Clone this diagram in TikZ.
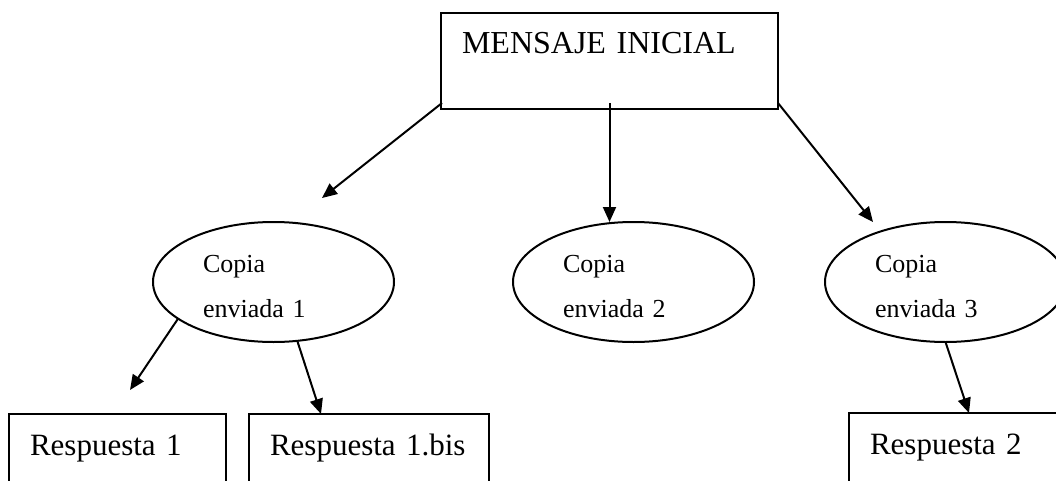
\documentclass[tikz,border=0pt]{standalone}
\usepackage{fontspec}
\setmainfont{Liberation Serif}
\usetikzlibrary{arrows.meta,shapes.geometric}
\begin{document}
\begin{tikzpicture}[x=1pt,y=-1pt,>={Triangle[length=15pt,width=13pt]},line width=2pt,
  box/.style={draw,rectangle,anchor=north west,outer sep=0pt,align=left,inner xsep=21pt,inner ysep=20pt,
    text height=21pt,font=\fontsize{31}{38}\selectfont},
  copia/.style={draw,ellipse,inner sep=0pt,outer sep=0pt,minimum width=241pt,minimum height=120pt,
    text width=141pt,align=left,text height=25pt,text depth=45pt,font=\fontsize{26}{45}\selectfont}]
  \useasboundingbox (0,0) rectangle (1056,481);
  \clip (0,0) rectangle (1056,481);
  \node[box,text width=295pt,text depth=35pt,font=\fontsize{32}{38}\selectfont] (msg) at (441,13) {MENSAJE INICIAL};
  \node[copia] (c1) at (273.5,282) {Copia\\enviada 1};
  \node[copia] (c2) at (633.5,282) {Copia\\enviada 2};
  \node[copia] (c3) at (945.5,282) {Copia\\enviada 3};
  \node[box,text width=175pt,text depth=80pt] (r1) at (9,414) {Respuesta 1};
  \node[box,text width=198pt,text depth=80pt] (r1b) at (249,414) {Respuesta 1.bis};
  \node[box,text width=190pt,text depth=80pt] (r2) at (849,413) {Respuesta 2};
  \draw[->] ([shift={(1,-6)}]msg.south west) -- ([shift={(48.5,-24)}]c1.north);
  \draw[->] ([shift={(0,-6)}]msg.south) -- (msg.south |- c2.north);
  \draw[->] ([shift={(0,-6)}]msg.south east) -- ([shift={(-72.5,0)}]c3.north);
  \draw[->] (c1.201) -- ([shift={(121,-24)}]r1.north west);
  \draw[->] (c1.292) -- ([shift={(72,0)}]r1b.north west);
  \draw[->] (c3.south) -- ([shift={(120,0)}]r2.north west);
\end{tikzpicture}
\end{document}
